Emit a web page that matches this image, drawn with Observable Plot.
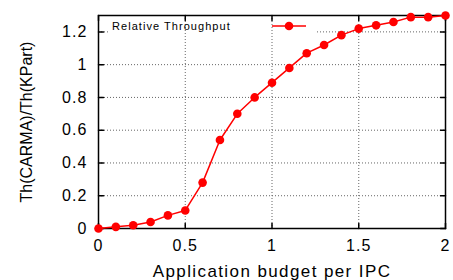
<!DOCTYPE html>
<html>
<head>
<meta charset="utf-8">
<script src="https://cdn.jsdelivr.net/npm/d3@7"></script>
<script src="https://cdn.jsdelivr.net/npm/@observablehq/plot@0.6"></script>
<style>
  html, body { margin: 0; padding: 0; background: #fff; }
  svg { font-family: "Liberation Sans", Arial, Helvetica, sans-serif; }
  svg [aria-label="x-axis tick label"] text,
  svg [aria-label="y-axis tick label"] text { letter-spacing: 1.1px; }
  svg .xlab text { letter-spacing: 1.4px; }
</style>
</head>
<body>
<div id="chart"></div>
<script>
// ---- data ----
const budget = [0, 0.1, 0.2, 0.3, 0.4, 0.5, 0.6, 0.7, 0.8, 0.9, 1.0, 1.1, 1.2, 1.3, 1.4, 1.5, 1.6, 1.7, 1.8, 1.9, 2.0];
const throughput = [0, 0.01, 0.02, 0.04, 0.08, 0.11, 0.28, 0.54, 0.70, 0.80, 0.89, 0.98, 1.07, 1.12, 1.18, 1.22, 1.24, 1.26, 1.29, 1.29, 1.30];
const xTicks = [0, 0.5, 1, 1.5, 2];
const yTicks = [0, 0.2, 0.4, 0.6, 0.8, 1, 1.2];
const xLabel = "Application budget per IPC";
const yLabel = "Th(CARMA)/Th(KPart)";
const seriesName = "Relative Throughput";

const rows = budget.map((b, i) => ({budget: b, value: throughput[i]}));
const red = "#ff0000";
const tickShape = {draw(ctx, l) { ctx.moveTo(0, 0); ctx.lineTo(0, -l); }};
const tickLen = 5;

function legendBg(index, scales, values, dims) {
  const g = d3.create("svg:g");
  g.append("rect")
    .attr("x", dims.marginLeft + 11).attr("y", dims.marginTop + 9)
    .attr("width", 207).attr("height", 14)
    .attr("fill", "white");
  return g.node();
}
function legendFg(index, scales, values, dims) {
  const g = d3.create("svg:g");
  const x0 = dims.marginLeft, y0 = dims.marginTop;
  g.append("text")
    .attr("x", x0 + 14).attr("y", y0 + 15)
    .attr("text-anchor", "start")
    .style("font-size", "11px").style("letter-spacing", "1.05px")
    .attr("fill", "black")
    .text(seriesName);
  g.append("line")
    .attr("x1", x0 + 174).attr("x2", x0 + 208)
    .attr("y1", y0 + 11).attr("y2", y0 + 11)
    .attr("stroke", red).attr("stroke-width", 1.5);
  g.append("circle")
    .attr("cx", x0 + 191).attr("cy", y0 + 11).attr("r", 4.3)
    .attr("fill", red);
  return g.node();
}

const chart = Plot.plot({
  width: 453,
  height: 280,
  marginLeft: 98,
  marginRight: 8,
  marginTop: 15,
  marginBottom: 52,
  style: {fontSize: "16px", background: "white", overflow: "visible"},
  x: {domain: [0, 2]},
  y: {domain: [0, 1.3]},
  marks: [
    Plot.ruleY(yTicks.filter(d => d > 0), {stroke: "#666", strokeWidth: 1, strokeDasharray: "1,2"}),
    legendBg,
    Plot.ruleX(xTicks.filter(d => d > 0 && d < 2), {stroke: "#666", strokeWidth: 1, strokeDasharray: "1,2"}),
    // inward ticks on all four sides
    Plot.vector(yTicks, {x: 0, y: d => d, rotate: 90, length: tickLen, anchor: "start", shape: tickShape, stroke: "black"}),
    Plot.vector(yTicks, {x: 2, y: d => d, rotate: -90, length: tickLen, anchor: "start", shape: tickShape, stroke: "black"}),
    Plot.vector(xTicks, {x: d => d, y: 0, rotate: 0, length: tickLen, anchor: "start", shape: tickShape, stroke: "black"}),
    Plot.vector(xTicks, {x: d => d, y: 1.3, rotate: 180, length: tickLen, anchor: "start", shape: tickShape, stroke: "black"}),
    Plot.frame({stroke: "black", strokeWidth: 1.5}),
    Plot.axisX({ticks: xTicks, tickSize: 0, tickPadding: 11, label: null, tickFormat: d => String(d), fill: "black"}),
    Plot.axisY({ticks: yTicks, tickSize: 0, tickPadding: 11, label: null, tickFormat: d => String(d), fill: "black"}),
    Plot.line(rows, {x: "budget", y: "value", stroke: red, strokeWidth: 1.5}),
    Plot.dot(rows, {x: "budget", y: "value", r: 4.3, fill: red}),
    legendFg,
    Plot.text([xLabel], {text: d => d, frameAnchor: "bottom", dy: 48, lineAnchor: "bottom", textAnchor: "middle", fontSize: 17, fill: "black", className: "xlab"}),
    Plot.text([yLabel], {text: d => d, frameAnchor: "left", dx: -67, rotate: -90, lineAnchor: "bottom", textAnchor: "middle", fontSize: 16, fill: "black"})
  ]
});
document.getElementById("chart").appendChild(chart);
</script>
</body>
</html>
